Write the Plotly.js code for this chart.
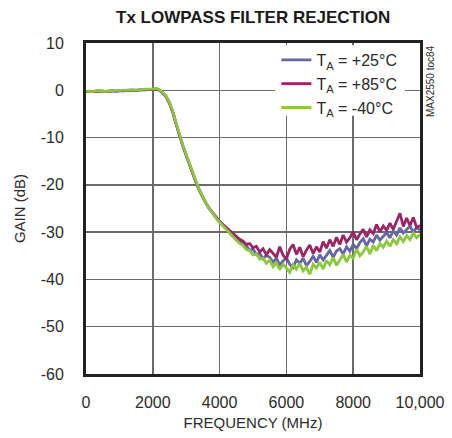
<!DOCTYPE html>
<html>
<head>
<meta charset="utf-8">
<script src="https://cdn.plot.ly/plotly-3.0.1.min.js"></script>
<style>
  html, body { margin: 0; padding: 0; background: #fff; }
  #chart { width: 452px; height: 438px; }
</style>
</head>
<body>
<div id="chart"></div>
<script>
// Frequency (MHz)
const freq = [0,100,200,300,400,500,600,700,800,900,1000,1100,1200,1300,1400,1500,1600,1700,1800,1900,
  2000,2100,2200,2300,2400,2500,2600,2700,2800,2900,3000,3100,3200,3300,3400,3500,3600,3700,3800,3900,
  4000,4100,4200,4300,4400,4500,4600,4700,4800,4900,5000,5100,5200,5300,5400,5500,5600,5700,5800,5900,
  6000,6100,6200,6300,6400,6500,6600,6700,6800,6900,7000,7100,7200,7300,7400,7500,7600,7700,7800,7900,
  8000,8100,8200,8300,8400,8500,8600,8700,8800,8900,9000,9100,9200,9300,9400,9500,9600,9700,9800,9900,10000];

// Gain (dB), TA = +25°C
const gain25 = [-0.3,-0.2,-0.3,-0.2,-0.1,-0.2,-0.3,-0.2,-0.1,-0.1,0.0,-0.1,0.0,0.0,0.1,0.0,0.1,0.1,0.1,0.2,
  0.3,0.3,0.0,-0.6,-1.3,-2.7,-4.6,-7.1,-9.6,-11.7,-13.7,-15.7,-17.6,-19.5,-21.2,-22.7,-24.0,-25.1,-26.1,-27.0,
  -27.8,-28.5,-29.4,-29.9,-30.9,-31.3,-31.8,-32.6,-32.9,-33.8,-33.6,-34.7,-34.5,-35.6,-34.9,-35.3,-36.4,-35.5,-36.9,-36.1,
  -35.4,-36.8,-37.5,-35.9,-36.6,-35.5,-37.1,-36.2,-35.1,-36.4,-34.8,-35.9,-35.0,-33.9,-35.3,-34.0,-33.5,-34.6,-33.1,-34.0,
  -32.6,-33.5,-32.2,-31.4,-32.9,-31.5,-32.1,-30.6,-31.7,-30.8,-30.1,-31.2,-29.7,-30.6,-29.1,-30.2,-29.5,-28.7,-30.0,-29.0,-29.6];

// Gain (dB), TA = +85°C
const gain85 = [-0.3,-0.3,-0.2,-0.2,-0.2,-0.3,-0.2,-0.2,-0.1,-0.2,-0.1,-0.1,0.0,0.0,0.0,0.0,0.1,0.1,0.1,0.2,
  0.2,0.3,0.0,-0.6,-1.4,-2.8,-4.7,-7.2,-9.7,-11.8,-13.8,-15.8,-17.7,-19.6,-21.3,-22.8,-24.0,-25.1,-26.0,-26.9,
  -27.7,-28.4,-29.0,-29.8,-30.3,-31.0,-31.5,-31.9,-32.6,-32.4,-33.3,-33.0,-34.2,-33.5,-34.8,-33.7,-34.4,-35.3,-33.1,-34.9,
  -35.6,-33.6,-32.6,-34.7,-33.2,-35.2,-33.8,-32.7,-34.5,-33.1,-34.2,-32.0,-33.4,-31.6,-33.0,-31.1,-32.6,-30.6,-32.1,-31.2,
  -29.9,-31.6,-30.4,-29.4,-31.0,-29.5,-30.3,-28.4,-29.9,-28.7,-29.6,-28.1,-29.4,-27.8,-26.0,-28.8,-27.0,-28.6,-26.9,-29.0,-28.6];

// Gain (dB), TA = -40°C
const gainM40 = [-0.2,-0.2,-0.3,-0.1,-0.2,-0.2,-0.2,-0.1,-0.1,0.0,0.0,0.0,0.0,0.1,0.1,0.1,0.1,0.2,0.2,0.2,
  0.3,0.4,0.1,-0.5,-1.2,-2.6,-4.5,-7.0,-9.5,-11.6,-13.6,-15.6,-17.5,-19.4,-21.1,-22.6,-24.0,-25.1,-26.2,-27.1,
  -27.9,-28.7,-29.5,-30.3,-31.0,-31.7,-32.4,-32.8,-33.7,-33.9,-34.8,-34.6,-35.7,-35.5,-36.6,-35.9,-37.3,-36.5,-37.9,-36.8,
  -37.6,-38.5,-36.9,-37.8,-36.6,-38.2,-37.4,-38.9,-36.8,-37.6,-36.4,-37.8,-36.0,-36.9,-35.4,-37.0,-35.9,-34.7,-36.3,-34.9,
  -35.5,-33.6,-35.0,-34.2,-33.0,-34.6,-32.8,-33.9,-32.4,-33.2,-31.9,-33.0,-31.6,-32.5,-31.0,-32.0,-30.7,-31.6,-30.2,-31.2,-30.5];

const seriesNames = ['T<sub>A</sub> = +25°C', 'T<sub>A</sub> = +85°C', 'T<sub>A</sub> = -40°C'];
const seriesColors = ['#6466a8', '#9c2465', '#8dc63f'];

const xTickVals = [0, 2000, 4000, 6000, 8000, 10000];
const xTickText = ['0', '2000', '4000', '6000', '8000', '10,000'];
const yTickVals = [10, 0, -10, -20, -30, -40, -50, -60];
const yTickText = ['10', '0', '-10', '-20', '-30', '-40', '-50', '-60'];

const FONT = '"Liberation Sans", Arial, sans-serif';
const TXT = '#2b2b2b';

const ys = [gain25, gain85, gainM40];
const traces = ys.map((y, i) => ({
  x: freq, y: y, type: 'scatter', mode: 'lines', name: seriesNames[i],
  line: { color: seriesColors[i], width: 2.8 }
}));

const layout = {
  width: 452, height: 438,
  margin: { l: 86, r: 32, t: 43, b: 64 },
  paper_bgcolor: '#ffffff', plot_bgcolor: '#ffffff',
  font: { family: FONT, color: TXT, size: 16 },
  title: {
    text: '<b>Tx LOWPASS FILTER REJECTION</b>',
    font: { family: FONT, size: 17, color: '#1a1a1a' },
    x: 0.56, xanchor: 'center', y: 0.962, yanchor: 'middle'
  },
  xaxis: {
    range: [0, 10000], tickvals: xTickVals, ticktext: xTickText,
    showgrid: true, gridcolor: '#6b6b6b', gridwidth: 1.5,
    zeroline: false, showline: true, mirror: true, linecolor: '#222222', linewidth: 3,
    ticks: 'outside', ticklen: 12, tickcolor: 'rgba(0,0,0,0)',
    tickfont: { family: FONT, size: 16, color: TXT },
    title: { text: 'FREQUENCY (MHz)', font: { family: FONT, size: 15, color: TXT }, standoff: 8 }
  },
  yaxis: {
    range: [-60, 10], tickvals: yTickVals, ticktext: yTickText,
    showgrid: true, gridcolor: '#6b6b6b', gridwidth: 1.5,
    zeroline: false, showline: true, mirror: true, linecolor: '#222222', linewidth: 3,
    ticks: 'outside', ticklen: 16, tickcolor: 'rgba(0,0,0,0)',
    tickfont: { family: FONT, size: 16, color: TXT },
    title: { text: 'GAIN (dB)', font: { family: FONT, size: 15, color: TXT }, standoff: 12 }
  },
  legend: {
    x: 0.57, y: 1.0, xanchor: 'left', yanchor: 'top',
    bgcolor: 'rgba(0,0,0,0)', borderwidth: 0,
    font: { family: FONT, size: 16, color: TXT },
    tracegroupgap: 0, itemwidth: 30
  },
  showlegend: true,
  shapes: [{
    type: 'rect', xref: 'paper', yref: 'paper', layer: 'above',
    x0: 0.566, x1: 0.955, y0: 0.78, y1: 0.993,
    fillcolor: '#ffffff', line: { width: 0 }
  }],
  annotations: [{
    text: 'MAX2550 toc84', xref: 'paper', yref: 'paper',
    x: 1.03, y: 1.0, xanchor: 'center', yanchor: 'top',
    textangle: -90, showarrow: false,
    font: { family: FONT, size: 10, color: TXT }
  }]
};

Plotly.newPlot('chart', traces, layout, { displayModeBar: false, staticPlot: true });
</script>
</body>
</html>
